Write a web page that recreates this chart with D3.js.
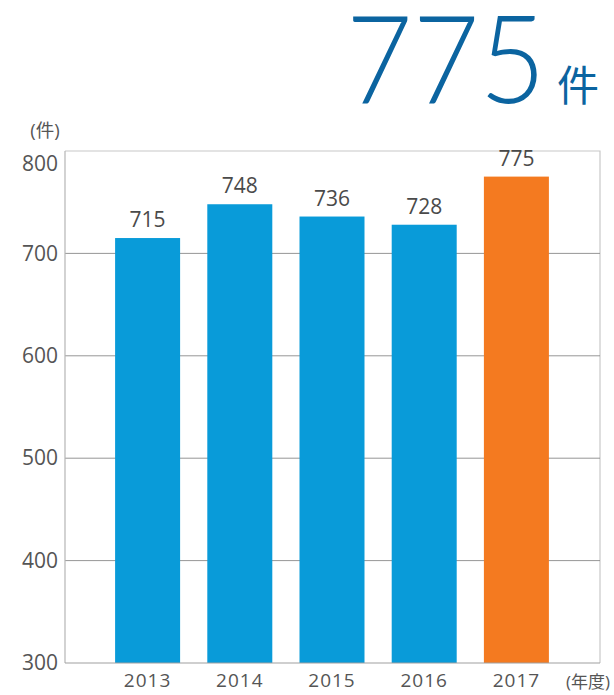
<!DOCTYPE html>
<html>
<head>
<meta charset="utf-8">
<script src="https://cdn.jsdelivr.net/npm/d3@7/dist/d3.min.js"></script>
<style>
  html, body { margin: 0; padding: 0; background: #fff; }
  svg { display: block; }
</style>
</head>
<body>
<svg id="chart" width="614" height="695"></svg>
<script>
// Yearly counts (件), fiscal years 2013–2017
const years = ["2013", "2014", "2015", "2016", "2017"];
const counts = [715, 748, 736, 728, 775];
const yTicks = [300, 400, 500, 600, 700, 800];
const headline = "775";

const svg = d3.select("#chart");
const font = "'Open Sans', 'Noto Sans CJK JP', sans-serif";

const plot = { left: 65, right: 600, top: 151, bottom: 663 };

const x = d3.scaleBand()
  .domain(years)
  .range([101.5, 562.5])
  .paddingInner(0.295)
  .paddingOuter(0.1475);

const y = d3.scaleLinear()
  .domain([300, 800])
  .range([plot.bottom, plot.top]);

// Frame: top and right edges in light grey
svg.append("path")
  .attr("d", `M${plot.left},${plot.top}H${plot.right}V${plot.bottom}`)
  .attr("fill", "none")
  .attr("stroke", "#c8c8c8")
  .attr("stroke-width", 1.2);

// Horizontal gridlines
svg.append("g")
  .selectAll("line")
  .data(yTicks.filter(t => t > 300 && t < 800))
  .join("line")
  .attr("x1", plot.left).attr("x2", plot.right)
  .attr("y1", d => y(d)).attr("y2", d => y(d))
  .attr("stroke", "#8a8a8a")
  .attr("stroke-width", 0.9);

// Bars
const lastYear = years[years.length - 1];
const rows = years.map((yr, i) => ({ yr, v: counts[i] }));
svg.append("g")
  .selectAll("rect")
  .data(rows)
  .join("rect")
  .attr("x", d => x(d.yr))
  .attr("width", x.bandwidth())
  .attr("y", d => y(d.v))
  .attr("height", d => y(300) - y(d.v))
  .attr("fill", d => d.yr === lastYear ? "#f47a20" : "#099bd9");

// Value labels above bars
svg.append("g")
  .selectAll("text")
  .data(rows)
  .join("text")
  .attr("x", d => x(d.yr) + x.bandwidth() / 2)
  .attr("y", d => y(d.v) - 11)
  .attr("text-anchor", "middle")
  .attr("font-family", font)
  .attr("font-size", 21)
  .attr("fill", "#4a4a4a")
  .text(d => d.v);

// Left axis line and bottom baseline
svg.append("line")
  .attr("x1", plot.left).attr("x2", plot.left)
  .attr("y1", plot.top).attr("y2", plot.bottom)
  .attr("stroke", "#b5b5b5").attr("stroke-width", 1.2);
svg.append("line")
  .attr("x1", plot.left).attr("x2", plot.right)
  .attr("y1", plot.bottom).attr("y2", plot.bottom)
  .attr("stroke", "#a0a0a0").attr("stroke-width", 1.2);

// Y-axis labels (the top one sits just below the frame edge)
const yAxis = d3.axisLeft(y).tickValues(yTicks).tickSize(0).tickPadding(7);
const gy = svg.append("g")
  .attr("transform", `translate(${plot.left},0)`)
  .call(yAxis);
gy.select(".domain").remove();
gy.selectAll("text")
  .attr("font-family", font)
  .attr("font-size", 21)
  .attr("fill", "#555")
  .attr("dy", d => d === 800 ? "0.95em" : "0.32em");

// X-axis labels
const xAxis = d3.axisBottom(x).tickSize(0).tickPadding(11);
const gx = svg.append("g")
  .attr("transform", `translate(0,${plot.bottom})`)
  .call(xAxis);
gx.select(".domain").remove();
gx.selectAll("text")
  .attr("font-family", font)
  .attr("font-size", 19)
  .attr("letter-spacing", 1)
  .attr("fill", "#555");

// Unit labels
svg.append("text")
  .attr("x", 45).attr("y", 137)
  .attr("text-anchor", "middle")
  .attr("font-family", font)
  .attr("font-size", 18.5)
  .attr("fill", "#555")
  .text("(件)");
svg.append("text")
  .attr("x", 566).attr("y", 688)
  .attr("font-family", font)
  .attr("font-size", 17)
  .attr("fill", "#555")
  .text("(年度)");

// Headline total
svg.append("text")
  .attr("x", 346).attr("y", 103)
  .attr("font-family", "Lato, 'Open Sans', sans-serif")
  .attr("font-weight", 300)
  .attr("font-size", 122)
  .attr("textLength", 200)
  .attr("lengthAdjust", "spacingAndGlyphs")
  .attr("fill", "#0b64a0")
  .text(headline);
svg.append("text")
  .attr("x", 557).attr("y", 101)
  .attr("font-family", "'Noto Sans CJK JP', sans-serif")
  .attr("font-size", 42)
  .attr("fill", "#0b64a0")
  .text("件");
</script>
</body>
</html>
